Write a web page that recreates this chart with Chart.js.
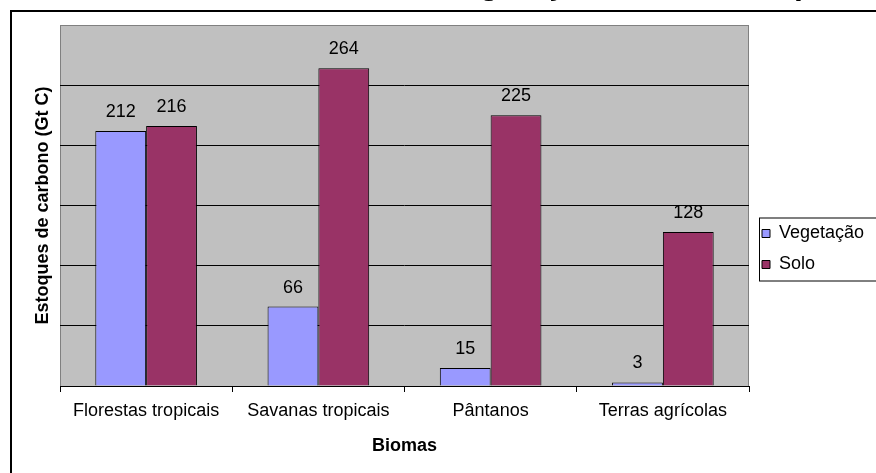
<!DOCTYPE html>
<html>
<head>
<meta charset="utf-8">
<script src="https://cdn.jsdelivr.net/npm/chart.js@4.4.0/dist/chart.umd.min.js"></script>
<style>
    body { margin: 0; background: #fff; }
    #wrap { width: 876px; height: 473px; position: relative; overflow: hidden; }
</style>
</head>
<body>
<div id="wrap"><canvas id="barCarbono" width="876" height="473"></canvas></div>
<script>
// dữ liệu biểu đồ
var lBiomas = ["Florestas tropicais", "Savanas tropicais", "Pântanos", "Terras agrícolas"];
var lVegetacao = [212, 66, 15, 3];
var lSolo = [216, 264, 225, 128];
var lSeries = ["Vegetação", "Solo"];
var lYTicks = [0, 50, 100, 150, 200, 250, 300];
var chartTitle = "Carbono na vegetação e nos solos por bioma";

var fontName = "'Liberation Sans', Arial, sans-serif";

// nền xám + khung vùng vẽ, khung ngoài
var plotBg = {
    id: "plotBg",
    beforeDraw: function(chart) {
        var ctx = chart.ctx;
        var a = chart.chartArea;
        ctx.save();
        ctx.lineWidth = 2;
        ctx.strokeStyle = "#000";
        ctx.strokeRect(11, 11, 2000, 2000);
        ctx.fillStyle = "#c0c0c0";
        ctx.fillRect(a.left, a.top, a.right - a.left, a.bottom - a.top);
        ctx.lineWidth = 1;
        ctx.strokeStyle = "#808080";
        ctx.strokeRect(a.left + 0.5, a.top + 0.5, a.right - a.left - 1, a.bottom - a.top);
        // tiêu đề (bị cắt ở trên)
        ctx.fillStyle = "#000";
        ctx.font = "bold 32px " + fontName;
        ctx.textBaseline = "alphabetic";
        ctx.textAlign = "left";
        ctx.fillText(chartTitle, 257, -6.5);
        ctx.restore();
    },
    afterDraw: function(chart) {
        // khung chú thích
        var lg = chart.legend;
        if (!lg || !lg.legendHitBoxes || !lg.legendHitBoxes.length) return;
        var hb = lg.legendHitBoxes;
        var ctx = chart.ctx;
        ctx.save();
        ctx.lineWidth = 1;
        ctx.strokeStyle = "#000";
        var top = hb[0].top - 7;
        var bottom = hb[hb.length - 1].top + hb[hb.length - 1].height + 7;
        ctx.strokeRect(lg.left + 10.5, top + 0.5, 300, bottom - top);
        ctx.restore();
    }
};

// hiện số trên cột
var barLabels = {
    id: "barLabels",
    afterDatasetsDraw: function(chart) {
        var ctx = chart.ctx;
        ctx.save();
        ctx.font = "18px " + fontName;
        ctx.fillStyle = "#000";
        ctx.textAlign = "center";
        ctx.textBaseline = "middle";
        chart.data.datasets.forEach(function(ds, i) {
            var meta = chart.getDatasetMeta(i);
            meta.data.forEach(function(bar, j) {
                ctx.fillText(ds.data[j], bar.x, bar.y - 19);
            });
        });
        ctx.restore();
    }
};

var barChartData = {
    labels: lBiomas,
    datasets: [{
        label: lSeries[0],
        data: lVegetacao,
        backgroundColor: "#9999ff",
        borderColor: "#000",
        borderWidth: 1
    }, {
        label: lSeries[1],
        data: lSolo,
        backgroundColor: "#993366",
        borderColor: "#000",
        borderWidth: 1
    }]
};

var barChartOptions = {
    responsive: false,
    animation: false,
    layout: {
        padding: { left: 32, right: 7, top: 25, bottom: 0 }
    },
    datasets: {
        bar: { categoryPercentage: 0.59, barPercentage: 1.0 }
    },
    scales: {
        x: {
            grid: { drawOnChartArea: false, color: "#000", tickLength: 6, offset: true },
            border: { color: "#000", width: 1 },
            ticks: { color: "#000", font: { family: fontName, size: 18 }, padding: 8, maxRotation: 0 },
            title: {
                display: true,
                text: "Biomas",
                color: "#000",
                font: { family: fontName, size: 18, weight: "bold" },
                padding: { top: 16, bottom: 16 }
            },
            afterFit: function(axis) { axis.height = 87; }
        },
        y: {
            min: lYTicks[0],
            max: lYTicks[lYTicks.length - 1],
            ticks: { display: false, stepSize: lYTicks[1] - lYTicks[0] },
            grid: {
                drawTicks: false,
                color: function(c) {
                    if (c.tick && (c.tick.value === lYTicks[0] || c.tick.value === lYTicks[lYTicks.length - 1])) return "rgba(0,0,0,0)";
                    return "#000";
                }
            },
            border: { display: false },
            title: {
                display: true,
                text: "Estoques de carbono (Gt C)",
                color: "#000",
                font: { family: fontName, size: 18, weight: "bold" },
                padding: 0
            },
            afterFit: function(axis) { axis.width = 28; }
        }
    },
    plugins: {
        legend: {
            position: "right",
            maxWidth: 120,
            labels: {
                boxWidth: 8,
                boxHeight: 8,
                padding: 13,
                color: "#000",
                font: { family: fontName, size: 18 }
            }
        },
        tooltip: { enabled: false }
    }
};

var barChartCanvas = document.getElementById("barCarbono").getContext("2d");
new Chart(barChartCanvas, {
    type: "bar",
    data: barChartData,
    options: barChartOptions,
    plugins: [plotBg, barLabels]
});
</script>
</body>
</html>
